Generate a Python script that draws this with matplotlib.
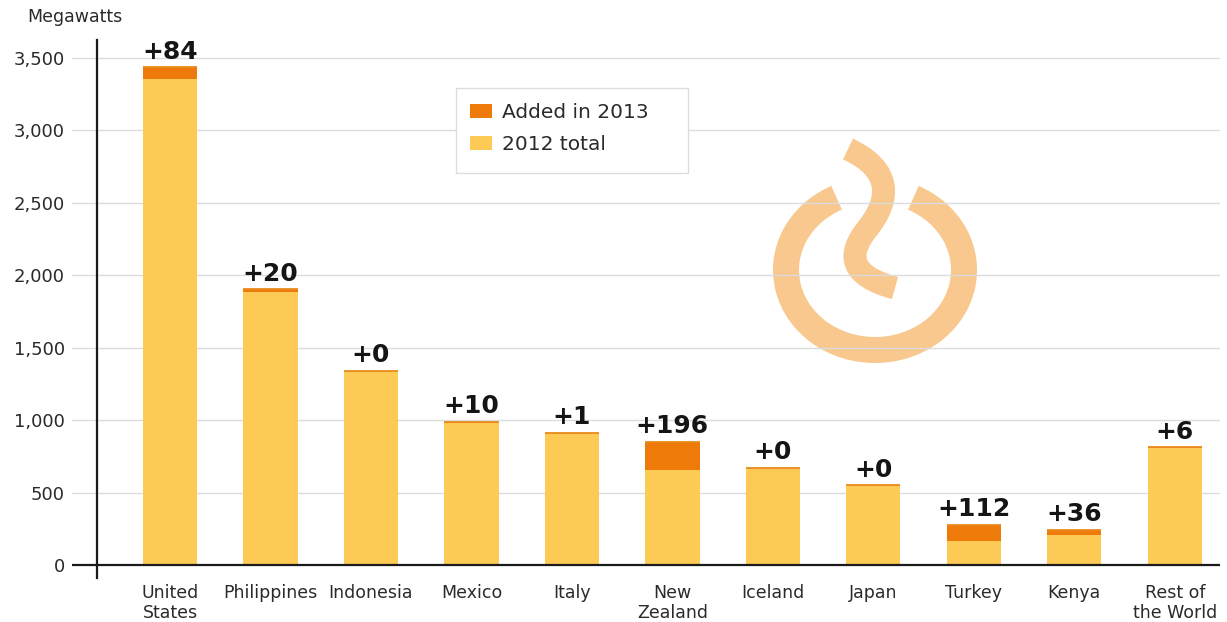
import matplotlib
matplotlib.use("Agg")
import matplotlib.pyplot as plt
from matplotlib.patches import Arc, PathPatch, Rectangle
from matplotlib.path import Path
from matplotlib.ticker import FuncFormatter

# ---- data ----
countries = ["United\nStates", "Philippines", "Indonesia", "Mexico", "Italy",
             "New\nZealand", "Iceland", "Japan", "Turkey", "Kenya", "Rest of\nthe World"]
total_2012 = [3353, 1884, 1340, 980, 913, 653, 670, 550, 166, 208, 808]
added_2013 = [84, 20, 0, 10, 1, 196, 0, 0, 112, 36, 6]
yticks = [0, 500, 1000, 1500, 2000, 2500, 3000, 3500]

YELLOW = "#FDCA55"
ORANGE = "#EE7A0A"
LOGO = "#F8C88E"
TXT = "#2a2a2a"

plt.rcParams['font.family'] = ['DejaVu Sans']

W, H = 1227, 622
fig = plt.figure(figsize=(W / 100, H / 100), dpi=100)

# pixel geometry
ax_l, ax_r, ax_t, ax_b = 72, 1220, 40.5, 578
ax = fig.add_axes([ax_l / W, (H - ax_b) / H, (ax_r - ax_l) / W, (ax_b - ax_t) / H])

# pixel-coordinate overlay for decoration (behind the chart)
bg = fig.add_axes([0, 0, 1, 1], zorder=-1)
bg.set_xlim(0, W)
bg.set_ylim(H, 0)
bg.axis("off")
bg.add_patch(Arc((875, 270), 178, 160, theta1=-62, theta2=242,
                 lw=26 * 0.72, color=LOGO, capstyle="butt"))
verts = [(848, 149), (893, 170), (890, 200), (868, 228),
         (846, 255), (850, 276), (895, 288)]
codes = [Path.MOVETO, Path.CURVE4, Path.CURVE4, Path.CURVE4,
         Path.CURVE4, Path.CURVE4, Path.CURVE4]
bg.add_patch(PathPatch(Path(verts, codes), fill=False, lw=23 * 0.72,
                       edgecolor=LOGO, capstyle="butt"))
ax.patch.set_alpha(0)

x = list(range(len(countries)))
tops = [t + a for t, a in zip(total_2012, added_2013)]
ax.bar(x, total_2012, width=0.54, color=YELLOW, label="2012 total", zorder=3)
ax.bar(x, added_2013, width=0.54, bottom=total_2012, color=ORANGE,
       label="Added in 2013", zorder=3)
ax.hlines(tops, [xi - 0.27 for xi in x], [xi + 0.27 for xi in x],
          color="#E98A1E", lw=1.3, zorder=3.5)

for xi, tp, a in zip(x, tops, added_2013):
    ax.annotate(f"+{a}", (xi, tp), xytext=(0, 2.5), textcoords="offset points",
                ha="center", va="bottom", fontsize=18, fontweight="bold",
                color="#151515")

ax.set_xlim(-0.975, 10.45)
ax.set_ylim(-90, 3620)
ax.set_yticks(yticks)
ax.yaxis.set_major_formatter(FuncFormatter(lambda v, p: f"{int(v):,}"))
ax.tick_params(axis="y", length=0, pad=5, labelsize=13, labelcolor=TXT)
ax.set_xticks(x)
ax.set_xticklabels(countries, fontsize=12.5, color=TXT, linespacing=1.15)
ax.tick_params(axis="x", length=0, pad=4)
for s in ax.spines.values():
    s.set_visible(False)
for yt in yticks[1:]:
    ax.axhline(yt, color="#dcdcdc", lw=1, zorder=1)
ax.axhline(0, color="#1a1a1a", lw=1.6, zorder=4)
ax.plot([-0.726, -0.726], [-90, 3620], color="#1a1a1a", lw=1.6, zorder=4,
        clip_on=False)

# legend frame (pixel coords) + frameless legend
ax.add_patch(Rectangle((456, 88), 232, 85, transform=bg.transData,
                       facecolor="white", edgecolor="#dddddd", lw=1,
                       zorder=2, clip_on=False))
handles, labels = ax.get_legend_handles_labels()
fx = (470 - ax_l) / (ax_r - ax_l)
fy = (ax_b - 103) / (ax_b - ax_t)
leg = ax.legend(handles[::-1], labels[::-1], loc="upper left",
                bbox_to_anchor=(fx, fy), fontsize=14.5, frameon=False,
                handlelength=1.1, handleheight=0.75, handletextpad=0.5,
                borderpad=0, labelspacing=0.65, borderaxespad=0)
for t in leg.get_texts():
    t.set_color(TXT)
leg.set_zorder(5)

fig.text(27 / W, 1 - 17 / H, "Megawatts", fontsize=12.5, color=TXT,
         ha="left", va="center")

fig.savefig("out.png", dpi=100)
